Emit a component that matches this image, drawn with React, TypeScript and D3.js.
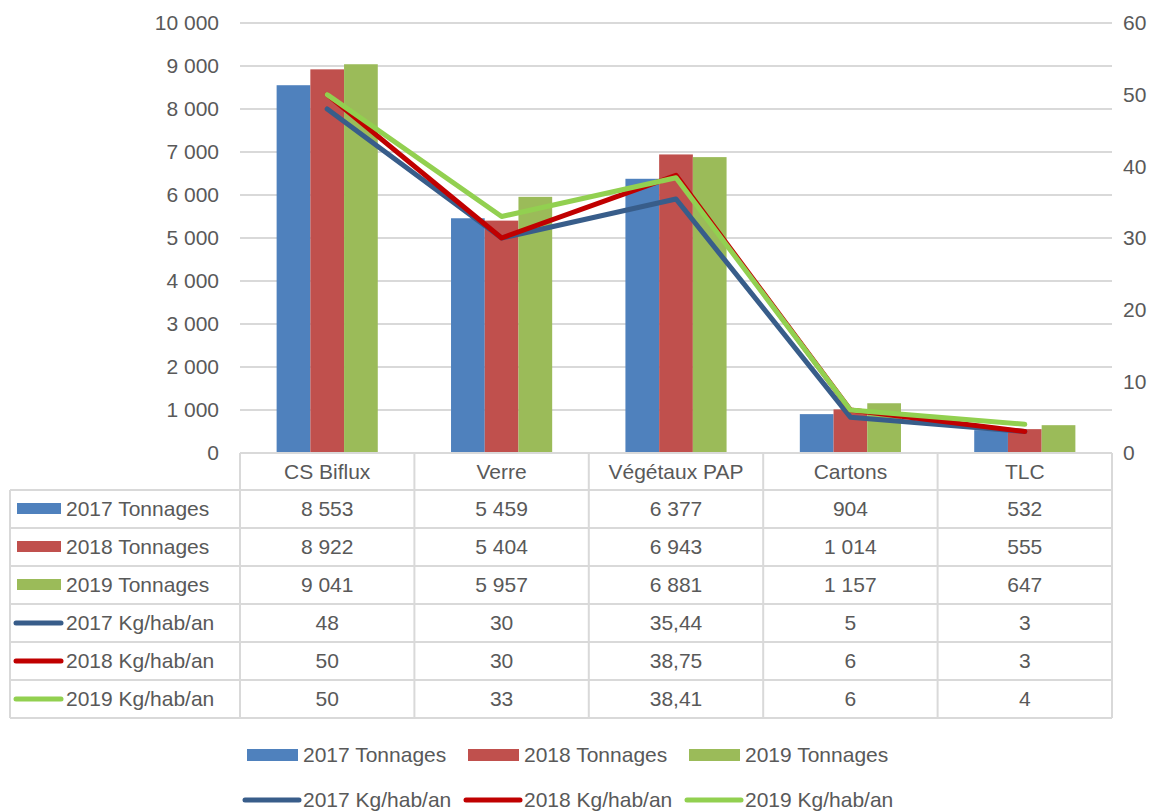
import React from "react";
import * as d3 from "d3";

const categories = ["CS Biflux", "Verre", "Végétaux PAP", "Cartons", "TLC"];
const tonnage2017 = [8553, 5459, 6377, 904, 532];
const tonnage2018 = [8922, 5404, 6943, 1014, 555];
const tonnage2019 = [9041, 5957, 6881, 1157, 647];
const kg2017 = [48, 30, 35.44, 5, 3];
const kg2018 = [50, 30, 38.75, 6, 3];
const kg2019 = [50, 33, 38.41, 6, 4];
const leftTicks = [0, 1000, 2000, 3000, 4000, 5000, 6000, 7000, 8000, 9000, 10000];
const rightTicks = [0, 10, 20, 30, 40, 50, 60];

const barSeries = [
  { name: "2017 Tonnages", values: tonnage2017, color: "#4f81bd" },
  { name: "2018 Tonnages", values: tonnage2018, color: "#c0504d" },
  { name: "2019 Tonnages", values: tonnage2019, color: "#9bbb59" },
];
const lineSeries = [
  { name: "2017 Kg/hab/an", values: kg2017, color: "#385d8a" },
  { name: "2018 Kg/hab/an", values: kg2018, color: "#c00000" },
  { name: "2019 Kg/hab/an", values: kg2019, color: "#92d050" },
];

const fr = d3.formatLocale({ decimal: ",", thousands: "\u00a0", grouping: [3], currency: ["", "€"] });
const fmtInt = fr.format(",d");
const fmtVal = (v: number) => (Number.isInteger(v) ? fmtInt(v) : fr.format(",.2f")(v));

const FONT = "'Liberation Sans', Arial, sans-serif";
const TXT = "#595959";
const GRID = "#d9d9d9";
const FS = 21;

export default function App() {
  const W = 1162, H = 812;
  const left = 240, right = 1112, top = 23, bottom = 453;
  const x0 = d3.scaleBand<string>().domain(categories).range([left, right]).paddingInner(0).paddingOuter(0);
  const bw = x0.bandwidth();
  const x1 = d3.scaleBand<string>().domain(barSeries.map((s) => s.name)).range([bw * 0.21, bw * 0.79]).padding(0);
  const yL = d3.scaleLinear().domain([0, 10000]).range([bottom, top]);
  const yR = d3.scaleLinear().domain([0, 60]).range([bottom, top]);
  const line = d3.line<number>().x((_, i) => x0(categories[i])! + bw / 2).y((d) => yR(d));

  const rowH = 38;
  const headerTop = bottom;
  const rowsTop = headerTop + 37;
  const tableLeft = 10;
  const allRows = [
    ...barSeries.map((s) => ({ ...s, kind: "bar" })),
    ...lineSeries.map((s) => ({ ...s, kind: "line" })),
  ];
  const tableBottom = rowsTop + rowH * allRows.length;

  return (
    <svg width={W} height={H} style={{ position: "absolute", left: 0, top: 0, background: "#fff" }} fontFamily={FONT}>
      {leftTicks.filter((t) => t > 0).map((t) => (
        <line key={t} x1={left} x2={right} y1={yL(t)} y2={yL(t)} stroke={GRID} strokeWidth={2} />
      ))}
      {leftTicks.map((t) => (
        <text key={t} x={219} y={yL(t)} dy="0.35em" textAnchor="end" fontSize={FS} fill={TXT}>
          {fmtInt(t)}
        </text>
      ))}
      {rightTicks.map((t) => (
        <text key={t} x={1123} y={yR(t)} dy="0.35em" textAnchor="start" fontSize={FS} fill={TXT}>
          {t}
        </text>
      ))}
      {barSeries.map((s) =>
        s.values.map((v, i) => (
          <rect
            key={s.name + i}
            x={x0(categories[i])! + x1(s.name)!}
            width={x1.bandwidth()}
            y={yL(v)}
            height={yL(0) - yL(v)}
            fill={s.color}
          />
        ))
      )}
      {lineSeries.map((s) => (
        <path key={s.name} d={line(s.values)!} fill="none" stroke={s.color} strokeWidth={5} strokeLinejoin="round" strokeLinecap="round" />
      ))}
      <g stroke={GRID} strokeWidth={2} fill="none">
        <line x1={left} x2={right} y1={headerTop} y2={headerTop} />
        <line x1={tableLeft} x2={right} y1={rowsTop} y2={rowsTop} />
        {allRows.map((_, r) => (
          <line key={r} x1={tableLeft} x2={right} y1={rowsTop + rowH * (r + 1)} y2={rowsTop + rowH * (r + 1)} />
        ))}
        <line x1={tableLeft} x2={tableLeft} y1={rowsTop} y2={tableBottom} />
        {categories.map((c) => (
          <line key={c} x1={x0(c)!} x2={x0(c)!} y1={headerTop} y2={tableBottom} />
        ))}
        <line x1={right} x2={right} y1={headerTop} y2={tableBottom} />
      </g>
      {categories.map((c) => (
        <text key={c} x={x0(c)! + bw / 2} y={headerTop + 18.5} dy="0.35em" textAnchor="middle" fontSize={FS} fill={TXT}>
          {c}
        </text>
      ))}
      {allRows.map((s, r) => {
        const cy = rowsTop + rowH * r + rowH / 2;
        return (
          <g key={s.name}>
            {s.kind === "bar" ? (
              <rect x={17} y={cy - 6} width={44} height={11} fill={s.color} />
            ) : (
              <line x1={16} x2={61} y1={cy} y2={cy} stroke={s.color} strokeWidth={5} strokeLinecap="round" />
            )}
            <text x={66} y={cy} dy="0.35em" fontSize={FS} fill={TXT}>
              {s.name}
            </text>
            {s.values.map((v, i) => (
              <text key={i} x={x0(categories[i])! + bw / 2} y={cy} dy="0.35em" textAnchor="middle" fontSize={FS} fill={TXT}>
                {fmtVal(v)}
              </text>
            ))}
          </g>
        );
      })}
      {barSeries.map((s, i) => (
        <g key={s.name} transform={`translate(${247 + i * 221},755)`}>
          <rect x={0} y={-6} width={51} height={12} fill={s.color} />
          <text x={56} y={0} dy="0.35em" fontSize={FS} fill={TXT}>
            {s.name}
          </text>
        </g>
      ))}
      {lineSeries.map((s, i) => (
        <g key={s.name} transform={`translate(${243 + i * 221},800)`}>
          <line x1={2} x2={56} y1={0} y2={0} stroke={s.color} strokeWidth={5} strokeLinecap="round" />
          <text x={60} y={0} dy="0.35em" fontSize={FS} fill={TXT}>
            {s.name}
          </text>
        </g>
      ))}
    </svg>
  );
}
